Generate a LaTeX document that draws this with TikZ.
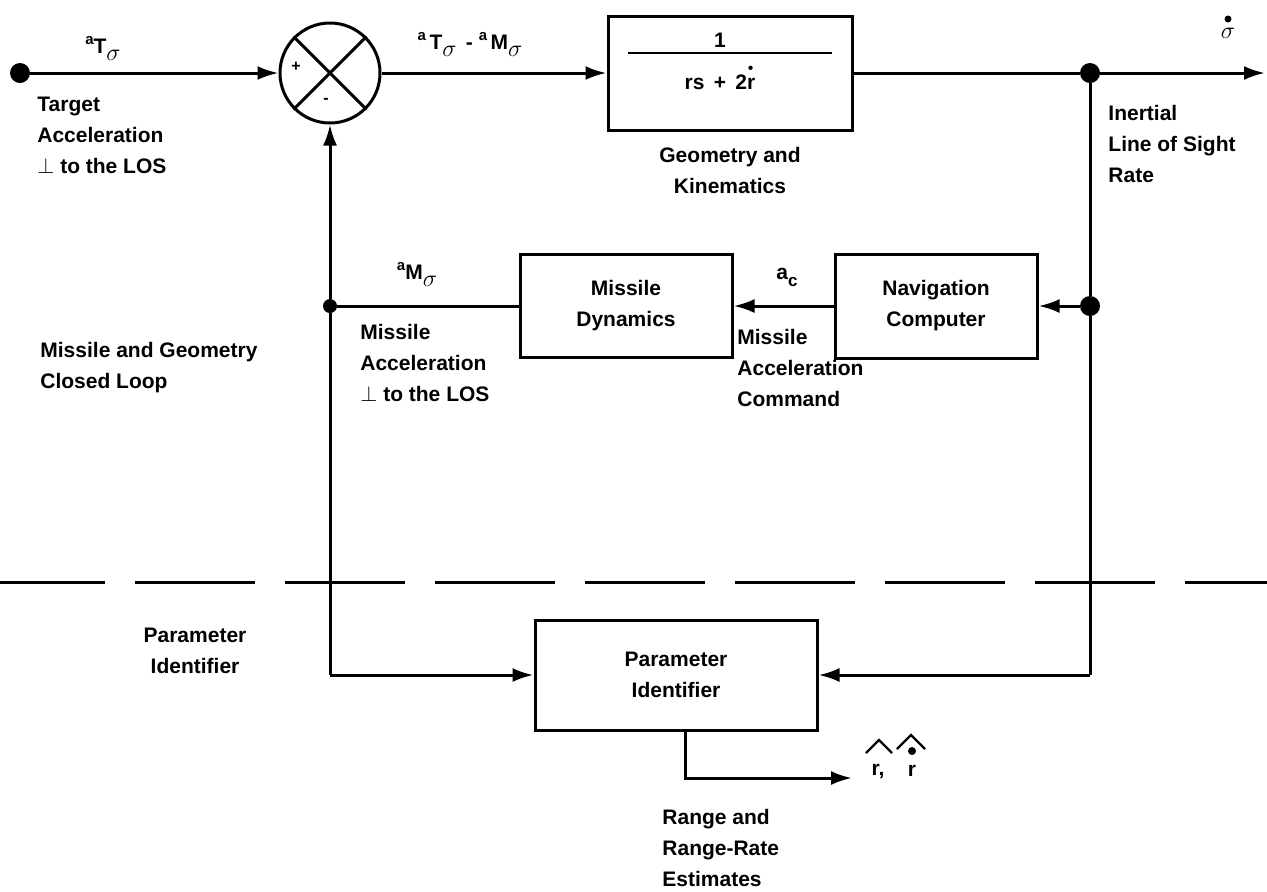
\documentclass[tikz,border=0pt]{standalone}
\usepackage{amsmath}
\usepackage{fontspec}
\setmainfont{Liberation Sans}
\usetikzlibrary{arrows.meta}
\newcommand{\sgm}{\raisebox{-3.5pt}{\fontsize{12.5}{12.5}\selectfont$\sigma$}}
\newcommand{\supa}{\raisebox{4.5pt}{\fontsize{7.5}{7.5}\selectfont a}}
\begin{document}
\begin{tikzpicture}[x=0.5pt,y=-0.5pt,
  every node/.style={font=\fontsize{10.5}{15.5}\selectfont\bfseries, inner sep=0pt},
  wire/.style={line width=1.5pt},
  thinw/.style={line width=1.2pt},
  arr/.style={wire,-{Latex[length=10.5pt,width=7pt]}},
  blk/.style={draw,line width=1.5pt,rectangle,align=center},
  bigdot/.style={circle,fill,minimum size=10pt},
  lbl/.style={align=left,anchor=north west},
  clbl/.style={align=center,anchor=north}]
\useasboundingbox (0,0) rectangle (1267,891);

% blocks and junctions
\node[bigdot] (in) at (20,73) {};
\node[draw,circle,line width=1.5pt,minimum size=50pt] (sum) at (330,73) {};
\draw[wire] (sum.north west) -- (sum.south east) (sum.north east) -- (sum.south west);
\node[font=\fontsize{8}{8}\selectfont\bfseries] (plus) at (296,67) {+};
\node[font=\fontsize{8}{8}\selectfont\bfseries] (minus) at (326,101) {-};
\node[blk,minimum width=122pt,minimum height=57pt] (gk) at (730,73) {};
\node[bigdot] (oj) at (1090,73) {};
\coordinate (out) at (1265,73);
\node[blk,minimum width=106pt,minimum height=51.5pt] (md) at (626,306) {Missile\\Dynamics};
\node[blk,minimum width=101pt,minimum height=52pt] (nav) at (936,306) {Navigation\\Computer};
\node[bigdot] (rj) at (1090,306) {};
\node[circle,fill,minimum size=7pt] (lj) at (330,306) {};
\node[blk,minimum width=141pt,minimum height=55pt] (pid) at (676,675) {Parameter\\Identifier};
\coordinate (pl) at (330,675);
\coordinate (pr) at (1090,675);
\coordinate (pb) at (685,778);
\coordinate (rr) at (852,778);

% fraction inside the geometry block
\node (one) at (720,40) {1};
\draw[line width=1pt] (628,53) -- (832,53);
\node (den) at (720,82) {rs\,\ +\ \,2r};
\fill ([xshift=-2.6pt,yshift=3.2pt]den.north east) circle (2.2);

% connectors
\draw[arr] (in) -- (sum.west);
\draw[arr] (sum.east) -- (gk.west);
\draw[wire] (gk.east) -- (oj);
\draw[arr] (oj) -- (out);
\draw[wire] (oj) -- (rj);
\draw[arr] (rj) -- (nav.east);
\draw[arr] (nav.west) -- (md.east);
\draw[wire] (md.west) -- (lj);
\draw[arr] (lj) -- (sum.south);
\draw[wire] (lj) -- (pl);
\draw[arr] (pl) -- (pid.west);
\draw[wire] (rj) -- (pr);
\draw[arr] (pr) -- (pid.east);
\draw[arr] (pid.south -| pb) -- (pb) -- (rr);

% dashed separator
\draw[wire, dash pattern=on 60pt off 15pt, dash phase=7.5pt] (0,582) -- (1267,582);

% signal labels
\node (lT) at (103,48) {\supa T\sgm};
\node (lTM) at (470,44) {\supa\,T\sgm\ \,-\ \supa\,M\sgm};
\node (lsd) at (1228,33) {\fontsize{12.5}{12.5}\selectfont$\sigma$};
\fill (1228,19) circle (3.5);
\node (lM) at (417,274) {\supa M\sgm};
\node (lac) at (787,277) {a\raisebox{-3.5pt}{\fontsize{8.5}{8.5}\selectfont c}};
% range and range-rate estimate symbols
\node (lr1) at (878,771) {r,};
\node (lr2) at (912,771) {r};
\draw[thinw] (866,753) -- (879,740) -- (892,753);
\draw[thinw] (897,749) -- (911,735) -- (925,749);
\fill (912,751) circle (4);

% descriptive labels
\node[lbl] (t1) at (37,97) {Target\\Acceleration\\$\perp$ to the LOS};
\node[lbl] (t2) at (1108,105) {Inertial\\Line of Sight\\Rate};
\node[clbl] (t3) at (730,147) {Geometry and\\Kinematics};
\node[lbl] (t4) at (360,324) {Missile\\Acceleration\\$\perp$ to the LOS};
\node[lbl] (t5) at (737,329) {Missile\\Acceleration\\Command};
\node[lbl] (t6) at (40,342) {Missile and Geometry\\Closed Loop};
\node[clbl] (t7) at (195,628) {Parameter\\Identifier};
\node[lbl] (t8) at (662,809) {Range and\\Range-Rate\\Estimates};
\end{tikzpicture}
\end{document}
